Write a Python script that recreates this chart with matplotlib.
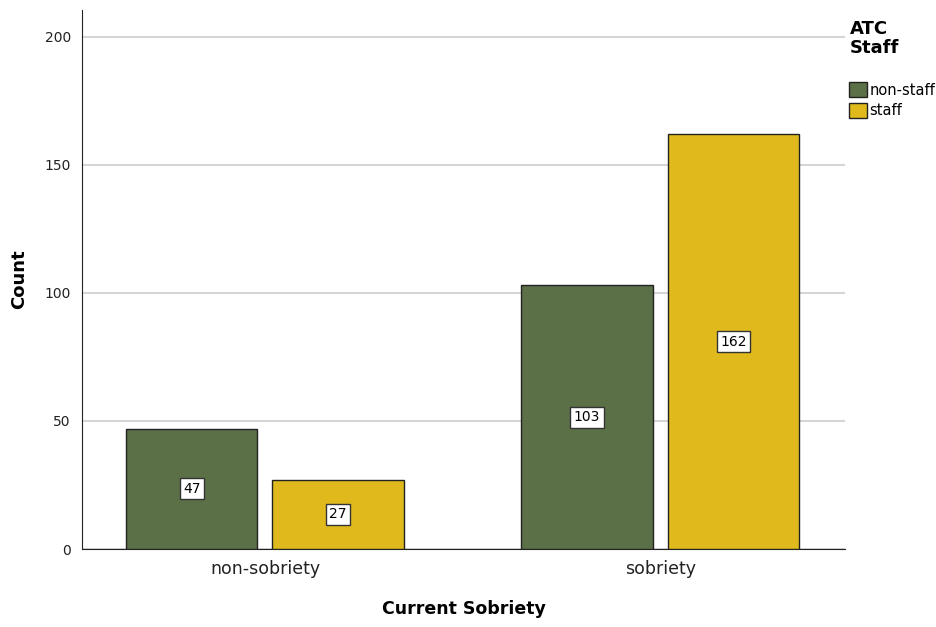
import numpy as np
import matplotlib.pyplot as plt
from matplotlib.patches import Patch

categories = ["non-sobriety", "sobriety"]
non_staff = [47, 103]
staff = [27, 162]
series_names = ["non-staff", "staff"]
colors = ["#5c7047", "#e0ba1d"]

fig = plt.figure(figsize=(9.37, 6.27), dpi=100)
ax = fig.add_axes([0.0875, 0.1244, 0.8145, 0.8596])

x = np.arange(len(categories))
w = 0.332
off = 0.185
for vals, dx, col in [(non_staff, -off, colors[0]), (staff, off, colors[1])]:
    bars = ax.bar(x + dx, vals, width=w, color=col, edgecolor="#222222", linewidth=1, zorder=3)
    for b, v in zip(bars, vals):
        ax.text(b.get_x() + b.get_width() / 2, v / 2, str(v), ha="center", va="center",
                fontsize=10, zorder=4,
                bbox=dict(boxstyle="square,pad=0.25", fc="white", ec="#333333", lw=1))

ax.set_xlim(-0.463, 1.468)
ax.set_ylim(0, 210.5)
ax.set_yticks([0, 50, 100, 150, 200])
ax.yaxis.grid(True, color="#cccccc", linewidth=1.2, zorder=0)
ax.set_xticks(x)
ax.set_xticklabels(categories, fontsize=12.5, color="#222222")
ax.tick_params(axis="y", labelsize=10, length=0, pad=8, colors="#222222")
ax.tick_params(axis="x", length=0, pad=8)
for s in ["top", "right"]:
    ax.spines[s].set_visible(False)
for s in ["left", "bottom"]:
    ax.spines[s].set_color("#222222")
ax.set_ylabel("Count", fontsize=13, fontweight="bold", labelpad=12)
ax.set_xlabel("Current Sobriety", fontsize=12.5, fontweight="bold", labelpad=16)

handles = [Patch(facecolor=c, edgecolor="#222222", label=n) for c, n in zip(colors, series_names)]
fig.text(0.907, 0.968, "ATC\nStaff", fontsize=13, fontweight="bold", va="top", ha="left",
         linespacing=1.05)
fig.legend(handles=handles, loc="upper left", bbox_to_anchor=(0.9, 0.878), frameon=False,
           fontsize=10.5, handlelength=1.2, handleheight=1.2, handletextpad=0.2,
           labelspacing=0.35, borderaxespad=0)

plt.savefig("out.png", dpi=100)
